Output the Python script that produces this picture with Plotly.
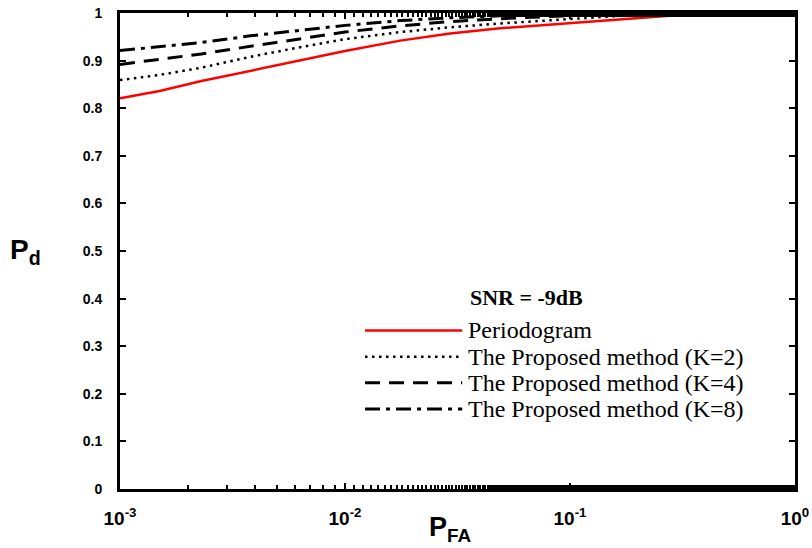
import plotly.graph_objects as go

# Data
pfa = [0.001, 0.0015, 0.0023, 0.0038, 0.0063, 0.01, 0.0176, 0.0293, 0.0489,
       0.1, 0.167, 0.251, 0.378, 0.631, 1.0]
pd_periodogram = [0.821, 0.836, 0.857, 0.878, 0.900, 0.920, 0.942, 0.957, 0.968,
                  0.979, 0.987, 0.994, 0.999, 1.0, 1.0]
pd_k2 = [0.859, 0.870, 0.885, 0.908, 0.928, 0.945, 0.960, 0.970, 0.978,
         0.988, 0.994, 0.998, 1.0, 1.0, 1.0]
pd_k4 = [0.892, 0.902, 0.914, 0.930, 0.946, 0.960, 0.973, 0.982, 0.988,
         0.995, 0.999, 1.0, 1.0, 1.0, 1.0]
pd_k8 = [0.921, 0.929, 0.938, 0.952, 0.964, 0.974, 0.984, 0.990, 0.994,
         0.999, 1.0, 1.0, 1.0, 1.0, 1.0]

names = ["Periodogram", "The Proposed method (K=2)",
         "The Proposed method (K=4)", "The Proposed method (K=8)"]
series = [pd_periodogram, pd_k2, pd_k4, pd_k8]
colors = ["#ff0000", "#000000", "#000000", "#000000"]
dashes = ["solid", "2.5px,4.5px", "15px,9px", "15px,6px,4px,6px"]
widths = [2.5, 2.5, 3, 3]

x_ticks = [0.001, 0.01, 0.1, 1]
x_ticktext = ["10<sup>-3</sup>", "10<sup>-2</sup>", "10<sup>-1</sup>", "10<sup>0</sup>"]
y_ticks = [0, 0.1, 0.2, 0.3, 0.4, 0.5, 0.6, 0.7, 0.8, 0.9, 1]
y_ticktext = ["0", "0.1", "0.2", "0.3", "0.4", "0.5", "0.6", "0.7", "0.8", "0.9", "1"]

fig = go.Figure()
for name, ys, c, d, w in zip(names, series, colors, dashes, widths):
    fig.add_trace(go.Scatter(x=pfa, y=ys, mode="lines", name=name,
                             line=dict(color=c, dash=d, width=w),
                             showlegend=False))

W, H = 812, 548
ml, mr, mt, mb = 120, 17, 13, 59

# Custom legend (long line samples as in the reference)
row_y = [0.333, 0.278, 0.223, 0.168]
shapes = []
annotations = []
for name, c, d, w, yy in zip(names, colors, dashes, widths, row_y):
    shapes.append(dict(type="line", xref="paper", yref="paper",
                       x0=0.363, x1=0.507, y0=yy, y1=yy,
                       line=dict(color=c, dash=d, width=w)))
    annotations.append(dict(text=name, xref="paper", yref="paper",
                            x=0.512, y=yy, xanchor="left", yanchor="middle",
                            showarrow=False,
                            font=dict(family="Liberation Serif", size=24, color="black")))

annotations.append(dict(text="<b>SNR = -9dB</b>", xref="paper", yref="paper",
                        x=0.602, y=0.403, xanchor="center", yanchor="middle",
                        showarrow=False,
                        font=dict(family="Liberation Serif", size=22, color="black")))
annotations.append(dict(text="<b>P<sub>d</sub></b>", xref="paper", yref="paper",
                        x=-0.14, y=0.50, xanchor="center", yanchor="middle",
                        showarrow=False,
                        font=dict(family="Liberation Sans", size=28, color="black")))
annotations.append(dict(text="<b>P<sub>FA</sub></b>", xref="paper", yref="paper",
                        x=0.49, y=-0.084, xanchor="center", yanchor="middle",
                        showarrow=False,
                        font=dict(family="Liberation Sans", size=27, color="black")))

fig.update_layout(
    width=W, height=H,
    margin=dict(l=ml, r=mr, t=mt, b=mb, autoexpand=False),
    paper_bgcolor="white", plot_bgcolor="white",
    shapes=shapes, annotations=annotations,
    font=dict(family="Liberation Sans", color="black"),
)
fig.update_xaxes(type="log", range=[-3, 0], showgrid=False, zeroline=False,
                 showline=True, linecolor="black", linewidth=3, mirror="ticks",
                 ticks="inside", ticklen=6, tickwidth=2, tickcolor="black",
                 tickvals=x_ticks, ticktext=x_ticktext,
                 tickfont=dict(family="Liberation Sans", size=19, color="black", weight="bold"),
                 ticklabelstandoff=10,
                 minor=dict(ticks="inside", ticklen=4, tickwidth=2, tickcolor="black",
                            showgrid=False))
fig.update_yaxes(range=[0, 1], showgrid=False, zeroline=False,
                 showline=True, linecolor="black", linewidth=3, mirror="ticks",
                 ticks="inside", ticklen=6, tickwidth=2, tickcolor="black",
                 tickvals=y_ticks, ticktext=y_ticktext,
                 tickfont=dict(family="Liberation Sans", size=14, color="black", weight="bold"),
                 ticklabelstandoff=12)

fig.write_html("out.html")
